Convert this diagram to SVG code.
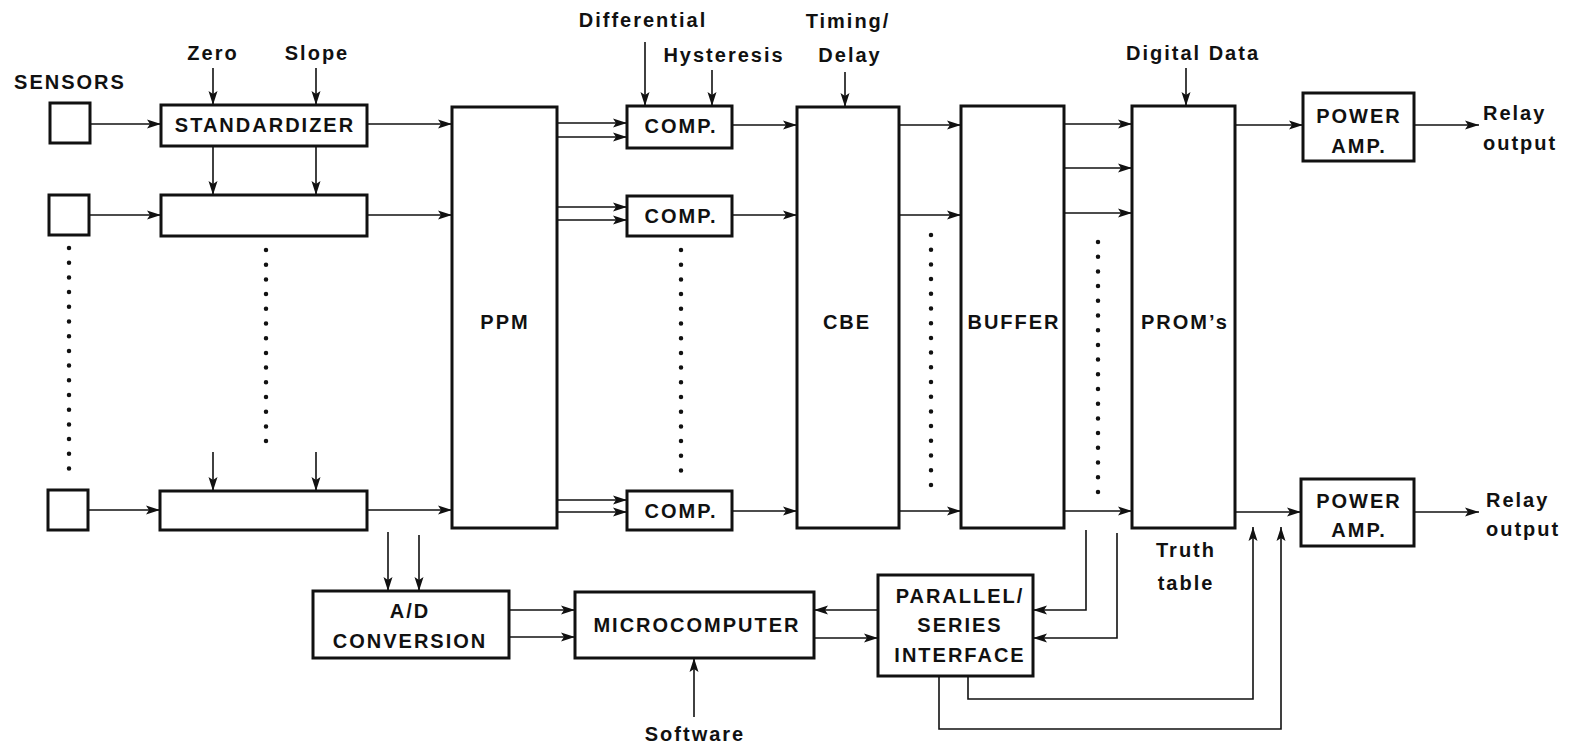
<svg xmlns="http://www.w3.org/2000/svg" width="1573" height="747" viewBox="0 0 1573 747">
<style>
  .box { fill: #fff; stroke: #111; stroke-width: 3; }
  .c { fill: none; stroke: #111; stroke-width: 1.6; }
  .ca { fill: none; stroke: #111; stroke-width: 1.6; marker-end: url(#ah); }
  .dots { fill: none; stroke: #111; stroke-width: 4.5; stroke-linecap: round; stroke-dasharray: 0 14.7; }
  text { font-family: "Liberation Sans", Arial, sans-serif; font-weight: bold; font-size: 20px; letter-spacing: 2px; fill: #111; text-anchor: middle; }
  .st { text-anchor: start; }
</style>
<defs>
  <marker id="ah" markerUnits="userSpaceOnUse" markerWidth="15" markerHeight="10" refX="14" refY="5" orient="auto">
    <path d="M0,0.5 L14,5 L0,9.5 L3,5 Z" fill="#111"/>
  </marker>
</defs>

<g id="connectors">
  <!-- sensors to standardizers -->
  <path class="ca" d="M90 124 H161"/>
  <path class="ca" d="M89 215 H161"/>
  <path class="ca" d="M88 510 H160"/>
  <!-- zero / slope -->
  <path class="ca" d="M213 68 V105"/>
  <path class="ca" d="M316 68 V105"/>
  <path class="ca" d="M213 146 V195"/>
  <path class="ca" d="M316 146 V195"/>
  <path class="ca" d="M213 452 V491"/>
  <path class="ca" d="M316 452 V491"/>
  <!-- standardizers to PPM -->
  <path class="ca" d="M367 124 H452"/>
  <path class="ca" d="M367 215 H452"/>
  <path class="ca" d="M367 510 H452"/>
  <!-- PPM to COMP -->
  <path class="ca" d="M557 123 H627"/>
  <path class="ca" d="M557 137 H627"/>
  <path class="ca" d="M557 207 H627"/>
  <path class="ca" d="M557 220 H627"/>
  <path class="ca" d="M557 500 H627"/>
  <path class="ca" d="M557 512 H627"/>
  <!-- differential / hysteresis / timing -->
  <path class="ca" d="M645 42 V106"/>
  <path class="ca" d="M712 70 V106"/>
  <path class="ca" d="M845 72 V107"/>
  <!-- COMP to CBE -->
  <path class="ca" d="M732 125 H797"/>
  <path class="ca" d="M732 215 H797"/>
  <path class="ca" d="M732 511 H797"/>
  <!-- CBE to BUFFER -->
  <path class="ca" d="M899 125 H961"/>
  <path class="ca" d="M899 215 H961"/>
  <path class="ca" d="M899 511 H961"/>
  <!-- BUFFER to PROM -->
  <path class="ca" d="M1064 124 H1132"/>
  <path class="ca" d="M1064 168 H1132"/>
  <path class="ca" d="M1064 213 H1132"/>
  <path class="ca" d="M1064 511 H1132"/>
  <!-- digital data -->
  <path class="ca" d="M1186 68 V106"/>
  <!-- PROM to power amps -->
  <path class="ca" d="M1235 125 H1303"/>
  <path class="ca" d="M1235 512 H1301"/>
  <path class="ca" d="M1414 125 H1479"/>
  <path class="ca" d="M1414 512 H1479"/>
  <!-- A/D -->
  <path class="ca" d="M388 532 V591"/>
  <path class="ca" d="M419 535 V591"/>
  <path class="ca" d="M509 610 H575"/>
  <path class="ca" d="M509 637 H575"/>
  <!-- micro / parallel -->
  <path class="ca" d="M878 610 H814"/>
  <path class="ca" d="M814 638 H878"/>
  <path class="ca" d="M694 717 V658"/>
  <path class="ca" d="M1086 530 V610 H1033"/>
  <path class="ca" d="M1117 533 V638 H1033"/>
  <path class="ca" d="M968 676 V699 H1253 V527"/>
  <path class="ca" d="M939 676 V729 H1281 V527"/>
  <!-- continuation dots -->
  <path class="dots" d="M69 248 V470"/>
  <path class="dots" d="M266 250 V445"/>
  <path class="dots" d="M681 250 V472"/>
  <path class="dots" d="M931 235 V488"/>
  <path class="dots" d="M1098 242 V495"/>
</g>

<g id="labels">
  <text x="70" y="89">SENSORS</text>
  <text x="213" y="60">Zero</text>
  <text x="317" y="60">Slope</text>
  <text x="643" y="27">Differential</text>
  <text x="724" y="62">Hysteresis</text>
  <text x="848" y="28">Timing/</text>
  <text x="850" y="62">Delay</text>
  <text x="1193" y="60">Digital Data</text>
  <text class="st" x="1483" y="120">Relay</text>
  <text class="st" x="1483" y="150">output</text>
  <text class="st" x="1486" y="507">Relay</text>
  <text class="st" x="1486" y="536">output</text>
  <text x="1186" y="557">Truth</text>
  <text x="1186" y="590">table</text>
  <text x="695" y="741">Software</text>
</g>

<g id="sensor1"><rect class="box" x="50" y="103" width="40" height="40"/></g>
<g id="sensor2"><rect class="box" x="49" y="195" width="40" height="40"/></g>
<g id="sensor3"><rect class="box" x="48" y="490" width="40" height="40"/></g>

<g id="standardizer1"><rect class="box" x="161" y="105" width="206" height="41"/><text x="265" y="132">STANDARDIZER</text></g>
<g id="standardizer2"><rect class="box" x="161" y="195" width="206" height="41"/></g>
<g id="standardizer3"><rect class="box" x="160" y="491" width="207" height="39"/></g>

<g id="ppm"><rect class="box" x="452" y="107" width="105" height="421"/><text x="505" y="329">PPM</text></g>

<g id="comp1"><rect class="box" x="627" y="106" width="105" height="42"/><text x="681" y="133">COMP.</text></g>
<g id="comp2"><rect class="box" x="627" y="196" width="105" height="40"/><text x="681" y="223">COMP.</text></g>
<g id="comp3"><rect class="box" x="627" y="491" width="105" height="39"/><text x="681" y="518">COMP.</text></g>

<g id="cbe"><rect class="box" x="797" y="107" width="102" height="421"/><text x="847" y="329">CBE</text></g>
<g id="buffer"><rect class="box" x="961" y="106" width="103" height="422"/><text x="1014" y="329">BUFFER</text></g>
<g id="proms"><rect class="box" x="1132" y="106" width="103" height="422"/><text x="1185" y="329">PROM’s</text></g>

<g id="poweramp1"><rect class="box" x="1303" y="93" width="111" height="68"/><text x="1359" y="123">POWER</text><text x="1359" y="153">AMP.</text></g>
<g id="poweramp2"><rect class="box" x="1301" y="479" width="113" height="67"/><text x="1359" y="508">POWER</text><text x="1359" y="537">AMP.</text></g>

<g id="adconv"><rect class="box" x="313" y="591" width="196" height="67"/><text x="410" y="618">A/D</text><text x="410" y="648">CONVERSION</text></g>
<g id="microcomputer"><rect class="box" x="575" y="592" width="239" height="66"/><text x="697" y="632">MICROCOMPUTER</text></g>
<g id="interface"><rect class="box" x="878" y="575" width="155" height="101"/><text x="960" y="603">PARALLEL/</text><text x="960" y="632">SERIES</text><text x="960" y="662">INTERFACE</text></g>
</svg>
